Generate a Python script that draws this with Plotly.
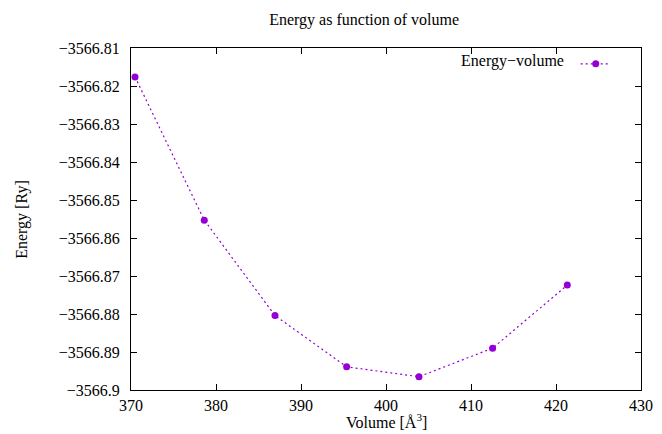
import plotly.graph_objects as go

volume = [370.47, 378.62, 386.94, 395.37, 403.88, 412.54, 421.33]
energy = [-3566.8176, -3566.8553, -3566.8804, -3566.8939, -3566.8965, -3566.8890, -3566.8724]

x_ticks = [370, 380, 390, 400, 410, 420, 430]
y_ticks = [-3566.81, -3566.82, -3566.83, -3566.84, -3566.85, -3566.86, -3566.87, -3566.88, -3566.89, -3566.90]
y_ticklabels = ["\u22123566.81", "\u22123566.82", "\u22123566.83", "\u22123566.84", "\u22123566.85",
                "\u22123566.86", "\u22123566.87", "\u22123566.88", "\u22123566.89", "\u22123566.9"]

color = "#9400D3"
font = "Liberation Serif"

fig = go.Figure()
fig.add_trace(go.Scatter(
    x=volume, y=energy, mode="lines+markers", name="",
    line=dict(color=color, width=1.2, dash="2px,3px"),
    marker=dict(color=color, size=7, symbol="circle"),
))

axis_common = dict(
    showgrid=False, zeroline=False, showline=True, linecolor="black", linewidth=1,
    mirror="ticks", ticks="inside", ticklen=6, tickcolor="black", tickwidth=1,
    tickfont=dict(family=font, size=16, color="black"), automargin=False,
)

fig.update_layout(
    width=662, height=434,
    margin=dict(l=123, r=29, t=40, b=52),
    paper_bgcolor="white", plot_bgcolor="white",
    font=dict(family=font, size=16, color="black"),
    title=dict(text="Energy as function of volume", x=0.538, xanchor="center",
               y=0.974, yanchor="middle", font=dict(family=font, size=16, color="black")),
    xaxis=dict(range=[370, 430], tickvals=x_ticks, ticktext=[str(v) for v in x_ticks],
               ticklabelstandoff=1, **axis_common),
    yaxis=dict(range=[-3566.90, -3566.81], tickvals=y_ticks, ticktext=y_ticklabels,
               ticklabelstandoff=7, **axis_common),
    showlegend=True,
    legend=dict(x=0.872, y=1.003, xanchor="left", yanchor="top", bgcolor="rgba(0,0,0,0)",
                font=dict(family=font, size=16), itemwidth=30),
    annotations=[
        dict(text="Energy\u2212volume", xref="paper", yref="paper", x=0.852, y=0.962,
             xanchor="right", yanchor="middle", showarrow=False,
             font=dict(family=font, size=16, color="black")),
        dict(text="Volume [Å<sup>3</sup>]", xref="paper", yref="paper", x=0.5, y=-0.092,
             xanchor="center", yanchor="middle", showarrow=False,
             font=dict(family=font, size=16, color="black")),
        dict(text="Energy [Ry]", xref="paper", yref="paper", x=-0.214, y=0.5,
             xanchor="center", yanchor="middle", textangle=-90, showarrow=False,
             font=dict(family=font, size=16, color="black")),
    ],
)

fig.write_html("out.html")
